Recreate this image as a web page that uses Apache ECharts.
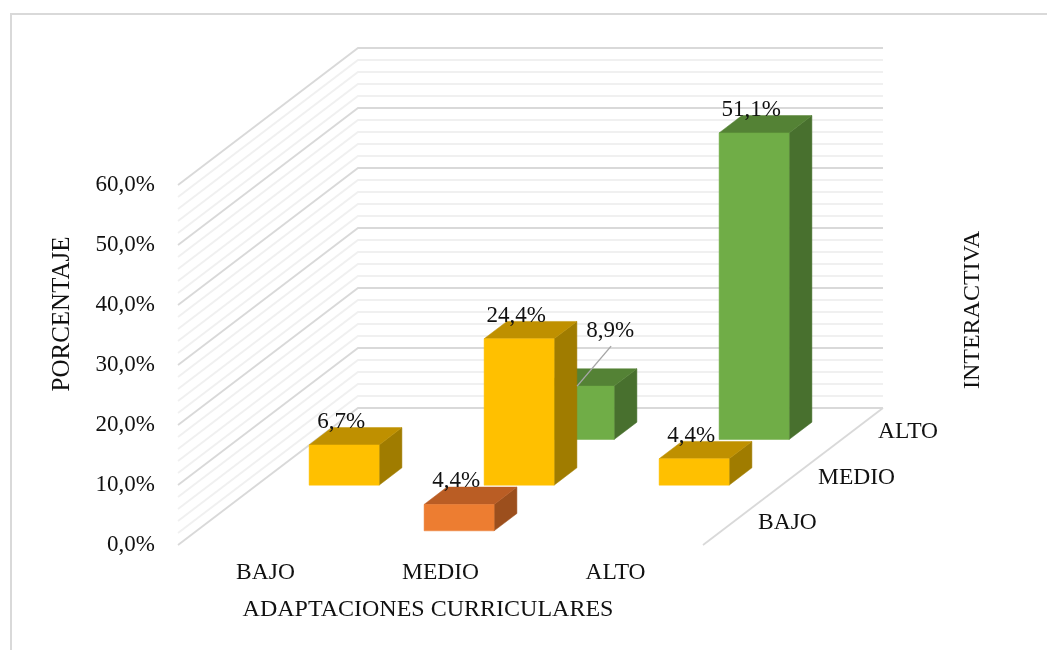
<!DOCTYPE html>
<html>
<head>
<meta charset="utf-8">
<style>html,body{margin:0;padding:0;background:#fff}#c{width:1047px;height:650px}</style>
<script src="https://cdn.jsdelivr.net/npm/echarts@6/dist/echarts.min.js"></script>
</head>
<body>
<div id="c"></div>
<script>
const categories = ['BAJO', 'MEDIO', 'ALTO'];
const depthCategories = ['BAJO', 'MEDIO', 'ALTO'];
const bajoValues = [null, 4.4, null];
const medioValues = [6.7, 24.4, 4.4];
const altoValues = [null, 8.9, 51.1];
const gridValues = [0,2,4,6,8,10,12,14,16,18,20,22,24,26,28,30,32,34,36,38,40,42,44,46,48,50,52,54,56,58,60];

const FONT = '"Liberation Serif","Times New Roman",serif';
const FS = 23.5;     // category and depth labels
const FS_NUM = 23;   // value tick labels and data labels
const FS_TITLE = 24; // axis titles
const DX = 180, DY = 137;          // oblique projection of the depth axis
const BAR_W = 0.4, BAR_D = 0.38;   // fraction of a band

const palettes = {
  BAJO:  {front:'#ED7D31', top:'#BA5D24', side:'#9C4F1D'},
  MEDIO: {front:'#FFC000', top:'#BF9000', side:'#A07C00'},
  ALTO:  {front:'#70AD47', top:'#548235', side:'#48702E'}
};

function gridRender(params, api) {
  const v = api.value(0);
  const cs = params.coordSys;
  const y = api.coord([0, v])[1];
  const major = v % 10 === 0;
  const stroke = major ? '#D9D9D9' : '#F0F0F0';
  const style = {stroke, lineWidth: 1.8, fill: 'none'};
  const children = [{
    type: 'polyline',
    shape: {points: [[cs.x, y], [cs.x + DX, y - DY], [cs.x + cs.width + DX, y - DY]]},
    style
  }];
  if (v === 0) {
    children.push({
      type: 'line',
      shape: {x1: cs.x + cs.width, y1: y, x2: cs.x + cs.width + DX, y2: y - DY},
      style
    });
  }
  return {type: 'group', children};
}

function barRender(zi, pal) {
  return function (params, api) {
    const xi = api.value(0), v = api.value(1);
    const w = api.size([1, 0])[0] * BAR_W;
    const bandX = DX / depthCategories.length, bandY = DY / depthCategories.length;
    const f = zi + 0.5 - BAR_D / 2;
    const ox = f * bandX, oy = f * bandY;
    const dx = BAR_D * bandX, dy = BAR_D * bandY;
    const c0 = api.coord([xi, 0]), c1 = api.coord([xi, v]);
    const l = c0[0] - w / 2 + ox, r = l + w;
    const b = c0[1] - oy, t = c1[1] - oy;
    const poly = (pts, fill) => ({type: 'polygon', shape: {points: pts}, style: {fill, stroke: fill, lineWidth: 0.5}});
    const children = [
      poly([[r, b], [r + dx, b - dy], [r + dx, t - dy], [r, t]], pal.side),
      poly([[l, t], [r, t], [r + dx, t - dy], [l + dx, t - dy]], pal.top),
      poly([[l, t], [r, t], [r, b], [l, b]], pal.front)
    ];
    return {type: 'group', children};
  };
}

function labelRender(zi) {
  return function (params, api) {
    const xi = api.value(0), v = api.value(1);
    const bandX = DX / depthCategories.length, bandY = DY / depthCategories.length;
    const f = zi + 0.5 - BAR_D / 2;
    const c1 = api.coord([xi, v]);
    const cx = c1[0] + f * bandX, top = c1[1] - f * bandY;
    const leader = zi === 2 && xi === 1;   // this one label sits away from its bar, with a leader line
    const lx = cx + (leader ? 31 : -3), ly = top + (leader ? -55 : -23);
    const children = [{
      type: 'text',
      style: {x: lx, y: ly, text: v.toFixed(1).replace('.', ',') + '%', fill: '#111', font: FS_NUM + 'px ' + FONT, align: 'center', verticalAlign: 'middle'}
    }];
    if (leader) {
      children.push({
        type: 'line',
        shape: {x1: lx + 1, y1: ly + 15, x2: cx - 2, y2: top},
        style: {stroke: '#A6A6A6', lineWidth: 1.4}
      });
    }
    return {type: 'group', children};
  };
}

function depthLabelRender(params, api) {
  const i = api.value(0);
  const cs = params.coordSys;
  const bandX = DX / depthCategories.length, bandY = DY / depthCategories.length;
  const y0 = api.coord([0, 0])[1];
  return {
    type: 'text',
    style: {
      x: cs.x + cs.width + (i + 0.5) * bandX + 25,
      y: y0 - (i + 0.5) * bandY + 1,
      text: depthCategories[i], fill: '#111', font: FS + 'px ' + FONT, align: 'left', verticalAlign: 'middle'
    }
  };
}

const toData = arr => arr.map((v, i) => v === null ? null : [i, v]).filter(d => d);
const depthSeries = [[altoValues, 2, 'ALTO'], [medioValues, 1, 'MEDIO'], [bajoValues, 0, 'BAJO']];

const series = [{
  type: 'custom', name: 'grid', silent: true, clip: false, z: 1,
  data: gridValues.filter(v => v % 10 !== 0).concat(gridValues.filter(v => v % 10 === 0)).map(v => [v]),
  encode: {y: 0}, renderItem: gridRender
}];
depthSeries.forEach(([vals, zi, name], k) => {
  series.push({
    type: 'custom', name, clip: false, z: 2 + k, silent: true,
    data: toData(vals), encode: {x: 0, y: 1},
    renderItem: barRender(zi, palettes[name])
  });
});
depthSeries.forEach(([vals, zi, name]) => {
  series.push({
    type: 'custom', name: name + ' labels', clip: false, z: 6, silent: true,
    data: toData(vals), encode: {x: 0, y: 1},
    renderItem: labelRender(zi)
  });
});
series.push({
  type: 'custom', name: 'depth axis', clip: false, z: 6, silent: true,
  data: depthCategories.map((c, i) => [i]), encode: {x: 0},
  renderItem: depthLabelRender
});

const titleStyle = {fill: '#111', font: FS_TITLE + 'px ' + FONT, textAlign: 'center', textVerticalAlign: 'middle'};
const chart = echarts.init(document.getElementById('c'), null, {renderer: 'canvas'});
chart.setOption({
  backgroundColor: '#fff',
  animation: false,
  grid: {left: 178, top: 185, width: 525, height: 360, containLabel: false},
  xAxis: {
    type: 'category', data: categories,
    axisLine: {show: false}, axisTick: {show: false}, splitLine: {show: false},
    axisLabel: {color: '#111', fontFamily: FONT, fontSize: FS, margin: 16, interval: 0}
  },
  yAxis: {
    type: 'value', min: 0, max: 60, interval: 10,
    axisLine: {show: false}, axisTick: {show: false}, splitLine: {show: false},
    axisLabel: {color: '#111', fontFamily: FONT, fontSize: FS_NUM, margin: 23,
      formatter: v => v.toFixed(1).replace('.', ',') + '%'}
  },
  graphic: [
    {type: 'polyline', z: 0, silent: true, shape: {points: [[1047, 14], [11, 14], [11, 650]]},
      style: {stroke: '#D9D9D9', lineWidth: 2, fill: 'none'}},
    {type: 'text', x: 62, y: 314, rotation: Math.PI / 2, style: Object.assign({text: 'PORCENTAJE'}, titleStyle, {font: '25px ' + FONT})},
    {type: 'text', x: 973, y: 310, rotation: Math.PI / 2, style: Object.assign({text: 'INTERACTIVA'}, titleStyle)},
    {type: 'text', x: 428, y: 610, style: Object.assign({text: 'ADAPTACIONES CURRICULARES'}, titleStyle)}
  ],
  series
});
</script>
</body>
</html>
